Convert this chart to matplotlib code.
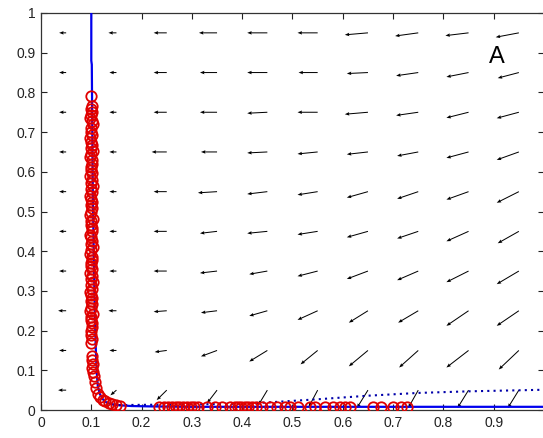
import numpy as np
import matplotlib
matplotlib.use("Agg")
import matplotlib.pyplot as plt

plt.rcParams['font.family'] = ['Liberation Sans', 'DejaVu Sans']

# ---- quiver grid ----
grid_x = [0.05, 0.15, 0.25, 0.35, 0.45, 0.55, 0.65, 0.75, 0.85, 0.95]
grid_y = [0.05, 0.15, 0.25, 0.35, 0.45, 0.55, 0.65, 0.75, 0.85, 0.95]

# horizontal components (leftward magnitude), rows from y=0.05 to y=0.95
u_rows = [
    [0.016, 0.012, 0.020, 0.020, 0.018, 0.018, 0.022, 0.020, 0.022, 0.022],
    [0.014, 0.014, 0.024, 0.032, 0.036, 0.034, 0.038, 0.038, 0.044, 0.040],
    [0.016, 0.016, 0.026, 0.032, 0.036, 0.040, 0.038, 0.040, 0.044, 0.044],
    [0.014, 0.014, 0.026, 0.034, 0.036, 0.040, 0.042, 0.042, 0.044, 0.044],
    [0.014, 0.014, 0.026, 0.034, 0.040, 0.040, 0.042, 0.042, 0.044, 0.042],
    [0.014, 0.014, 0.026, 0.038, 0.040, 0.040, 0.042, 0.042, 0.044, 0.044],
    [0.014, 0.014, 0.030, 0.032, 0.040, 0.040, 0.042, 0.042, 0.044, 0.044],
    [0.014, 0.014, 0.026, 0.034, 0.040, 0.040, 0.046, 0.044, 0.044, 0.044],
    [0.014, 0.014, 0.026, 0.034, 0.040, 0.038, 0.042, 0.044, 0.044, 0.042],
    [0.014, 0.016, 0.026, 0.036, 0.040, 0.040, 0.046, 0.046, 0.046, 0.046],
]
# vertical components (downward magnitude)
v_rows = [
    [0.000, 0.013, 0.025, 0.033, 0.038, 0.043, 0.045, 0.045, 0.045, 0.045],
    [0.000, 0.000, 0.004, 0.015, 0.028, 0.035, 0.040, 0.043, 0.043, 0.048],
    [0.000, 0.000, 0.0025, 0.005, 0.013, 0.023, 0.030, 0.030, 0.038, 0.038],
    [0.000, 0.000, 0.000, 0.005, 0.008, 0.013, 0.020, 0.023, 0.028, 0.033],
    [0.000, 0.000, 0.000, 0.005, 0.005, 0.008, 0.015, 0.018, 0.025, 0.030],
    [0.000, 0.000, 0.000, 0.003, 0.006, 0.008, 0.015, 0.018, 0.020, 0.028],
    [0.000, 0.000, 0.000, 0.000, 0.0025, 0.005, 0.006, 0.010, 0.015, 0.020],
    [0.000, 0.000, 0.000, 0.000, 0.0025, 0.000, 0.005, 0.008, 0.014, 0.015],
    [0.000, 0.000, 0.000, 0.000, 0.000, 0.000, 0.0025, 0.008, 0.011, 0.014],
    [0.000, 0.000, 0.000, 0.000, 0.000, 0.000, 0.005, 0.008, 0.007, 0.011],
]

# ---- nullcline (solid blue) ----
curve_x = [0.100, 0.100, 0.101, 0.102, 0.103, 0.105, 0.107, 0.109, 0.111, 0.113,
           0.117, 0.123, 0.130, 0.140, 0.155, 0.180, 0.220, 0.300, 0.500, 0.700, 1.000]
curve_y = [1.000, 0.880, 0.870, 0.700, 0.550, 0.380, 0.240, 0.150, 0.090, 0.060,
           0.040, 0.027, 0.019, 0.015, 0.012, 0.010, 0.009, 0.008, 0.008, 0.008, 0.008]

# ---- dotted blue curve ----
dot_x = [0.130, 0.200, 0.300, 0.400, 0.450, 0.550, 0.650, 0.750, 0.850, 1.000]
dot_y = [0.012, 0.013, 0.014, 0.016, 0.019, 0.027, 0.036, 0.043, 0.047, 0.051]

# ---- red data circles ----
red_vert_y = [0.790, 0.765, 0.758, 0.750, 0.742, 0.735, 0.728, 0.720, 0.710, 0.700,
              0.692, 0.685, 0.676, 0.668, 0.660, 0.652, 0.645, 0.637, 0.630, 0.620,
              0.612, 0.605, 0.597, 0.590, 0.580, 0.572, 0.565, 0.556, 0.548, 0.540,
              0.532, 0.525, 0.516, 0.508, 0.500, 0.490, 0.482, 0.475, 0.467, 0.458,
              0.450, 0.442, 0.435, 0.426, 0.418, 0.410, 0.402, 0.394, 0.386, 0.378,
              0.370, 0.362, 0.354, 0.346, 0.338, 0.330, 0.322, 0.314, 0.306, 0.298,
              0.290, 0.282, 0.274, 0.266, 0.258, 0.250, 0.242, 0.234, 0.226, 0.218,
              0.210, 0.200, 0.190, 0.180, 0.170, 0.135, 0.125, 0.115, 0.105, 0.095]
red_vert_x = [0.100, 0.101, 0.099, 0.102, 0.100, 0.098, 0.101, 0.103, 0.099, 0.100,
              0.102, 0.098, 0.100, 0.101, 0.099, 0.103, 0.100, 0.098, 0.101, 0.102,
              0.099, 0.100, 0.102, 0.098, 0.101, 0.100, 0.103, 0.099, 0.101, 0.098,
              0.100, 0.102, 0.099, 0.101, 0.100, 0.098, 0.103, 0.100, 0.099, 0.101,
              0.102, 0.098, 0.100, 0.101, 0.099, 0.103, 0.100, 0.098, 0.101, 0.102,
              0.099, 0.100, 0.102, 0.098, 0.101, 0.100, 0.103, 0.099, 0.101, 0.098,
              0.100, 0.102, 0.099, 0.101, 0.100, 0.098, 0.103, 0.100, 0.099, 0.101,
              0.102, 0.100, 0.099, 0.101, 0.100, 0.102, 0.101, 0.103, 0.102, 0.104]
red_corner_x = [0.106, 0.108, 0.110, 0.113, 0.118, 0.123, 0.128, 0.135, 0.142, 0.150, 0.158]
red_corner_y = [0.085, 0.070, 0.055, 0.040, 0.032, 0.026, 0.022, 0.017, 0.014, 0.012, 0.011]
red_bot_x = [0.235, 0.245, 0.252, 0.260, 0.268, 0.275, 0.283, 0.290, 0.298, 0.305,
             0.312, 0.330, 0.345, 0.360, 0.375, 0.385, 0.392, 0.398, 0.405, 0.412,
             0.420, 0.428, 0.440, 0.455, 0.470, 0.485, 0.495, 0.510, 0.535, 0.545,
             0.565, 0.580, 0.595, 0.605, 0.615, 0.660, 0.675, 0.700, 0.715, 0.728]
red_bot_y = [0.008, 0.007, 0.008, 0.007, 0.008, 0.007, 0.008, 0.007, 0.008, 0.007,
             0.008, 0.007, 0.008, 0.007, 0.008, 0.007, 0.008, 0.007, 0.008, 0.007,
             0.008, 0.007, 0.008, 0.007, 0.008, 0.007, 0.008, 0.007, 0.008, 0.007,
             0.008, 0.007, 0.008, 0.007, 0.008, 0.007, 0.008, 0.007, 0.008, 0.007]

x_ticks = [0, 0.1, 0.2, 0.3, 0.4, 0.5, 0.6, 0.7, 0.8, 0.9]
x_tick_labels = ['0', '0.1', '0.2', '0.3', '0.4', '0.5', '0.6', '0.7', '0.8', '0.9']
y_ticks = [0, 0.1, 0.2, 0.3, 0.4, 0.5, 0.6, 0.7, 0.8, 0.9, 1]
y_tick_labels = ['0', '0.1', '0.2', '0.3', '0.4', '0.5', '0.6', '0.7', '0.8', '0.9', '1']
panel_label = 'A'

# ---- figure ----
W, H = 543, 438
fig = plt.figure(figsize=(W / 100, H / 100), dpi=100)
ax = fig.add_axes([41 / W, (H - 410) / H, 503 / W, 397 / H])

X, Y = np.meshgrid(grid_x, grid_y)
U = -np.array(u_rows)
V = -np.array(v_rows)
ax.quiver(X, Y, U, V, angles='xy', scale_units='xy', scale=1, color='k',
          width=0.002, headwidth=3.5, headlength=4.5, headaxislength=4, zorder=2)

ax.plot(curve_x, curve_y, color='#0000ee', lw=1.6, zorder=3)
ax.plot(dot_x, dot_y, color='#0000aa', lw=1.5, ls=(0, (1, 2)), zorder=3)

for xs, ys in [(red_vert_x, red_vert_y), (red_corner_x, red_corner_y), (red_bot_x, red_bot_y)]:
    ax.plot(xs, ys, ls='none', marker='o', ms=7.5, mfc='none', mec='#e00000', mew=1.3, zorder=4)

ax.text(0.907, 0.89, panel_label, fontsize=17, ha='center', va='center')

ax.set_xlim(0, 1)
ax.set_ylim(0, 1)
ax.set_xticks(x_ticks)
ax.set_xticklabels(x_tick_labels)
ax.set_yticks(y_ticks)
ax.set_yticklabels(y_tick_labels)
ax.tick_params(direction='in', length=4, width=0.8, top=True, right=True,
               labelsize=10, colors='#222222', pad=4)
for s in ax.spines.values():
    s.set_linewidth(0.9)
    s.set_color('#333333')

fig.savefig('out.png', dpi=100)
